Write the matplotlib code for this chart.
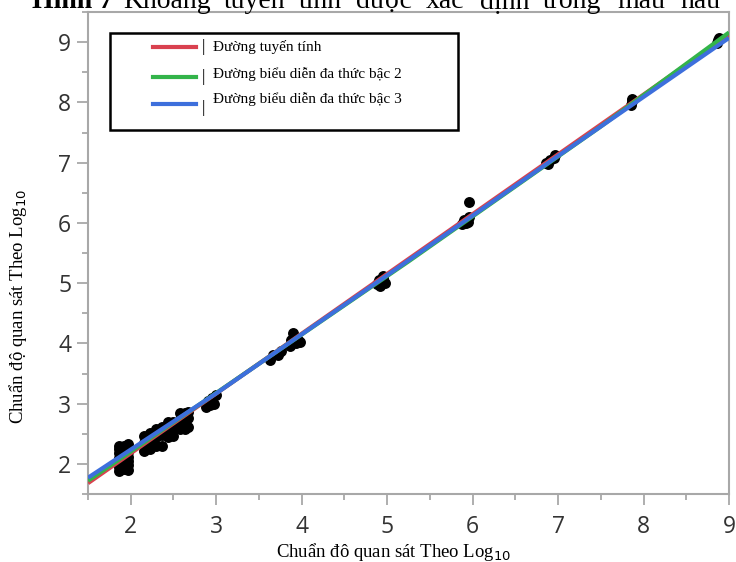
import matplotlib
matplotlib.use("Agg")
import matplotlib.pyplot as plt
from matplotlib.lines import Line2D
from matplotlib.patches import Rectangle
from matplotlib.ticker import MultipleLocator

# ---- data ----
obs_x = [1.86, 1.86, 1.86, 1.86, 1.86, 1.86, 1.86,
         1.92, 1.92, 1.92, 1.92, 1.92,
         1.97, 1.97, 1.97, 1.97, 1.97, 1.97, 1.97,
         2.15, 2.15, 2.15, 2.22, 2.22, 2.22, 2.30, 2.30, 2.30,
         2.36, 2.36, 2.36, 2.44, 2.44, 2.44, 2.50, 2.50, 2.50,
         2.58, 2.58, 2.58, 2.63, 2.63, 2.63, 2.67, 2.67, 2.67,
         2.88, 2.90, 2.93, 2.95, 2.97, 3.00,
         3.63, 3.67, 3.72, 3.76, 3.86, 3.88, 3.90, 3.93, 3.96, 3.98,
         4.88, 4.90, 4.92, 4.95, 4.95, 4.97,
         5.88, 5.90, 5.92, 5.95, 5.96, 5.96,
         6.86, 6.88, 6.90, 6.95, 6.96,
         7.85, 7.86, 7.87,
         8.86, 8.87, 8.88]
obs_y = [1.88, 1.95, 2.02, 2.10, 2.18, 2.25, 2.30,
         1.92, 2.02, 2.12, 2.22, 2.30,
         1.90, 1.98, 2.05, 2.12, 2.20, 2.28, 2.33,
         2.22, 2.35, 2.47, 2.25, 2.40, 2.52, 2.30, 2.45, 2.58,
         2.30, 2.48, 2.62, 2.45, 2.58, 2.70, 2.46, 2.60, 2.70,
         2.58, 2.72, 2.84, 2.58, 2.72, 2.85, 2.62, 2.76, 2.86,
         2.95, 3.05, 2.98, 3.10, 3.00, 3.15,
         3.72, 3.80, 3.80, 3.87, 3.95, 4.05, 4.18, 4.00, 4.05, 4.02,
         4.98, 5.05, 4.95, 5.08, 5.12, 5.00,
         5.98, 6.05, 6.00, 6.02, 6.10, 6.35,
         7.00, 6.98, 7.05, 7.08, 7.12,
         7.95, 8.02, 8.05,
         8.98, 9.03, 9.07]

linear_x = [1.5, 9.0]
linear_y = [1.68, 9.12]
quad_x = [1.5, 5.25, 7.5, 9.0]
quad_y = [1.72, 5.36, 7.60, 9.16]
cubic_x = [1.5, 3.0, 5.0, 7.0, 9.0]
cubic_y = [1.77, 3.17, 5.13, 7.11, 9.07]

x_ticks = [2, 3, 4, 5, 6, 7, 8, 9]
y_ticks = [2, 3, 4, 5, 6, 7, 8, 9]

legend_labels = ["Đường tuyến tính",
                 "Đường biểu diễn đa thức bậc 2",
                 "Đường biểu diễn đa thức bậc 3"]
title_bold = "Hình 7"
title_words = ["Khoảng", "tuyến", "tính", "được", "xác", "định",
               "trong", "mẫu", "nấu"]
x_label = "Chuẩn đô quan sát Theo Log$_{10}$"
y_label = "Chuẩn độ quan sát Theo Log$_{10}$"

RED = "#d9414f"
GREEN = "#33b44a"
BLUE = "#3d6fdc"
GRAY = "#a8a8a8"

W, H = 736, 562
fig = plt.figure(figsize=(W / 100, H / 100), dpi=100)
ax = fig.add_axes([88 / W, 1 - 494 / H, (729 - 88) / W, (494 - 12) / H])

ax.scatter(obs_x, obs_y, s=62, color="black", zorder=2, linewidths=0)
ax.plot(linear_x, linear_y, color=RED, lw=3.0, zorder=3, solid_capstyle="butt")
ax.plot(quad_x, quad_y, color=GREEN, lw=3.0, zorder=4, solid_capstyle="butt")
ax.plot(cubic_x, cubic_y, color=BLUE, lw=3.0, zorder=5, solid_capstyle="butt")

ax.set_xlim(1.5, 9.0)
ax.set_ylim(1.5, 9.5)
ax.set_xticks(x_ticks)
ax.set_yticks(y_ticks)
ax.xaxis.set_minor_locator(MultipleLocator(0.5))
ax.yaxis.set_minor_locator(MultipleLocator(0.5))
for s in ax.spines.values():
    s.set_color(GRAY)
    s.set_linewidth(1.5)
ax.tick_params(which="major", length=8, width=1.3, color=GRAY, pad=4,
               labelsize=16.5, labelcolor="#333333")
ax.tick_params(which="minor", length=4, width=1.3, color=GRAY)
ax.tick_params(axis="x", which="major", pad=7)
for lab in ax.get_xticklabels() + ax.get_yticklabels():
    lab.set_fontfamily("Open Sans")


def fx(px):
    return (px - 88) / (729 - 88)


def fy(py):
    return (494 - py) / (494 - 12)


ax.set_xlabel(x_label, fontfamily="Liberation Serif", fontsize=13.5, va="center")
ax.set_ylabel(y_label, fontfamily="Liberation Serif", fontsize=13.5, va="center")
ax.xaxis.set_label_coords(fx(394), fy(552))
ax.yaxis.set_label_coords(fx(18), fy(306))

# legend box (manual, to reproduce the reference layout)
ax.add_patch(Rectangle((fx(110), fy(130)), fx(458) - fx(110), fy(33) - fy(130),
                       transform=ax.transAxes, fill=True, facecolor="white",
                       edgecolor="black", lw=1.8, zorder=6))
leg_colors = [RED, GREEN, BLUE]
line_py = [47, 77, 104]
bar_py = [47, 77, 108]
text_py = [47, 74, 99]
for c, lp, bp, tp, lab in zip(leg_colors, line_py, bar_py, text_py, legend_labels):
    ax.add_line(Line2D([fx(153), fx(196)], [fy(lp), fy(lp)], color=c, lw=3.0,
                       transform=ax.transAxes, zorder=7))
    ax.text(fx(202), fy(bp), "|", transform=ax.transAxes, fontsize=12,
            fontfamily="Liberation Serif", va="center", ha="left", zorder=7)
    ax.text(fx(213), fy(tp), lab, transform=ax.transAxes, fontsize=11,
            fontfamily="Liberation Serif", va="center", ha="left", zorder=7)

# partially visible (justified) caption at the top
base_y = 1 - 8.5 / H
fig.text(113 / W, base_y, title_bold, fontsize=20, fontweight="bold",
         fontfamily="Liberation Serif", ha="right", va="baseline")
word_px = [123, 224, 299, 356, 426, 480, 543, 617, 680]
for wx, word in zip(word_px, title_words):
    fig.text(wx / W, base_y, word, fontsize=20,
             fontfamily="Liberation Serif", ha="left", va="baseline")

fig.savefig("out.png", dpi=100)
